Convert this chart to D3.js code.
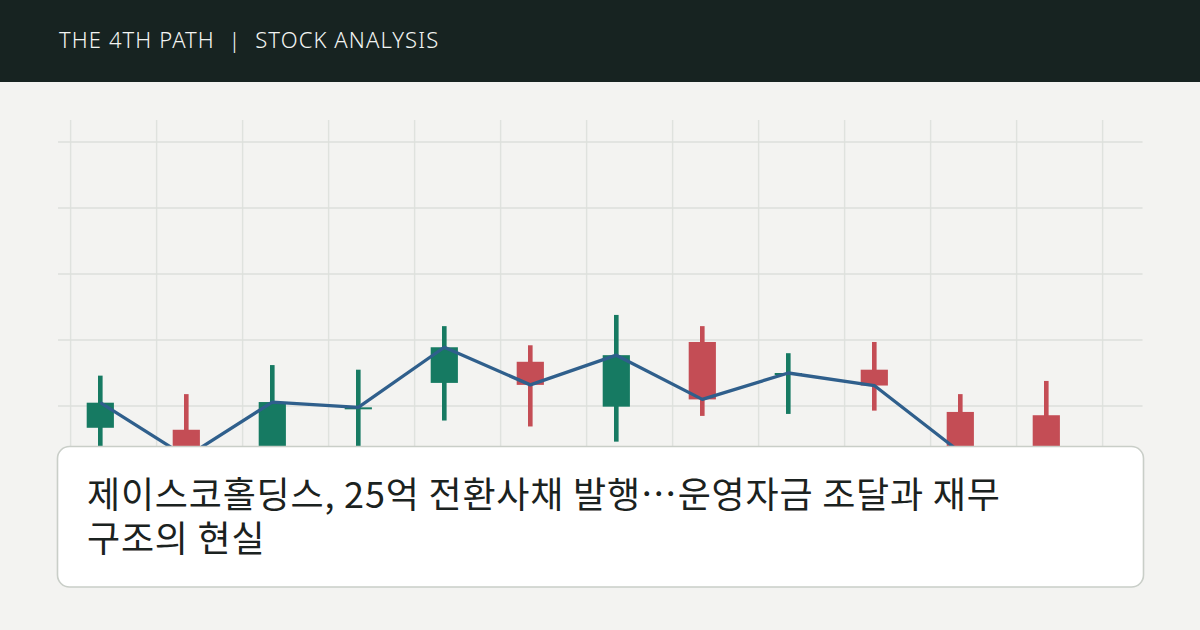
<!DOCTYPE html>
<html>
<head>
<meta charset="utf-8">
<script src="https://cdn.jsdelivr.net/npm/d3@7"></script>
<style>
  html, body { margin: 0; padding: 0; background: #f3f3f1; }
  svg { display: block; }
</style>
</head>
<body>
<svg id="svg"></svg>
<script>

const width = 1200;
const height = 630;

// candle data
const days   = d3.range(12);
const opens  = [1967, 1964, 1915, 1996, 2035, 2067, 1999, 2097, 2047, 2055, 1991, 1986];
const closes = [2005, 1923, 2006, 1998, 2089, 2032, 2077, 2010, 2050, 2031, 1930, 1903];
const highs  = [2046, 2018, 2062, 2055, 2121, 2092, 2138, 2121, 2080, 2097, 2018, 2038];
const lows   = [1918, 1903, 1895, 1906, 1978, 1969, 1946, 1985, 1988, 1993, 1903, 1880];
const priceTicks = [1800, 1900, 2000, 2100, 2200, 2300, 2400];
const gridSteps = d3.range(13);

const headerText = "THE 4TH PATH  |  STOCK ANALYSIS";
const titleLines = [
  "제이스코홀딩스, 25억 전환사채 발행…운영자금 조달과 재무",
  "구조의 현실"
];

const svg = d3.select("#svg")
      .attr("width", width)
      .attr("height", height)
      .attr("viewBox", `0 0 ${width} ${height}`);

svg.append("rect")
    .attr("width", width)
    .attr("height", height)
    .attr("fill", "#f3f3f1");

const x = d3.scaleLinear().domain([0, 11]).range([100.3, 1046.3]);
const y = d3.scaleLinear().domain([2000, 2400]).range([406, 142]);

// grid
const grid = svg.append("g").attr("class", "grid");

grid.selectAll("line.v")
    .data(gridSteps)
    .enter().append("line")
    .attr("class", "v")
    .attr("x1", d => x(d - 0.3453))
    .attr("x2", d => x(d - 0.3453))
    .attr("y1", 120)
    .attr("y2", 570)
    .attr("stroke", "#dfe2de")
    .attr("stroke-width", 1.4);

grid.selectAll("line.h")
    .data(priceTicks)
    .enter().append("line")
    .attr("class", "h")
    .attr("x1", 58)
    .attr("x2", 1142.5)
    .attr("y1", d => y(d))
    .attr("y2", d => y(d))
    .attr("stroke", "#dcdfdb")
    .attr("stroke-width", 1.4);

// candles
const up = "#167a62", down = "#c44d55";
const colour = i => closes[i] >= opens[i] ? up : down;

const candles = svg.append("g").attr("class", "candles");

candles.selectAll("rect.wick")
    .data(days)
    .enter().append("rect")
    .attr("class", "wick")
    .attr("x", i => x(i) - 2.3)
    .attr("width", 4.6)
    .attr("y", i => y(highs[i]))
    .attr("height", i => y(lows[i]) - y(highs[i]))
    .attr("fill", colour);

candles.selectAll("rect.body")
    .data(days)
    .enter().append("rect")
    .attr("class", "body")
    .attr("x", i => x(i) - 13.6)
    .attr("width", 27.2)
    .attr("y", i => y(Math.max(opens[i], closes[i])))
    .attr("height", i => Math.max(2, Math.abs(y(opens[i]) - y(closes[i]))))
    .attr("fill", colour);

// close line
const line = d3.line()
    .x(i => x(i))
    .y(i => y(closes[i]));

svg.append("path")
    .datum(days)
    .attr("d", line)
    .attr("fill", "none")
    .attr("stroke", "#2f5f8c")
    .attr("stroke-width", 3.3)
    .attr("stroke-linejoin", "round");

// header bar
svg.append("rect")
    .attr("width", width)
    .attr("height", 82)
    .attr("fill", "#172321");

svg.append("text")
    .attr("x", 59)
    .attr("y", 47.5)
    .attr("fill", "#f3f5f3")
    .style("font-family", "'Noto Sans', 'Open Sans', sans-serif")
    .style("font-weight", 300)
    .style("font-size", "22px")
    .style("letter-spacing", "1.1px")
    .style("white-space", "pre")
    .text(headerText);

// title card
svg.append("rect")
    .attr("x", 57.5)
    .attr("y", 446.5)
    .attr("width", 1086)
    .attr("height", 140.5)
    .attr("rx", 12)
    .attr("fill", "#ffffff")
    .attr("stroke", "#c9cec8")
    .attr("stroke-width", 1.6);

svg.append("g")
    .selectAll("text")
    .data(titleLines)
    .enter().append("text")
    .attr("x", 87)
    .attr("y", (d, i) => 508 + i * 44)
    .attr("fill", "#1b2220")
    .style("font-family", "'Noto Sans CJK KR', 'Noto Sans', sans-serif")
    .style("font-size", "36px")
    .style("letter-spacing", "0.8px")
    .text(d => d);

</script>
</body>
</html>
